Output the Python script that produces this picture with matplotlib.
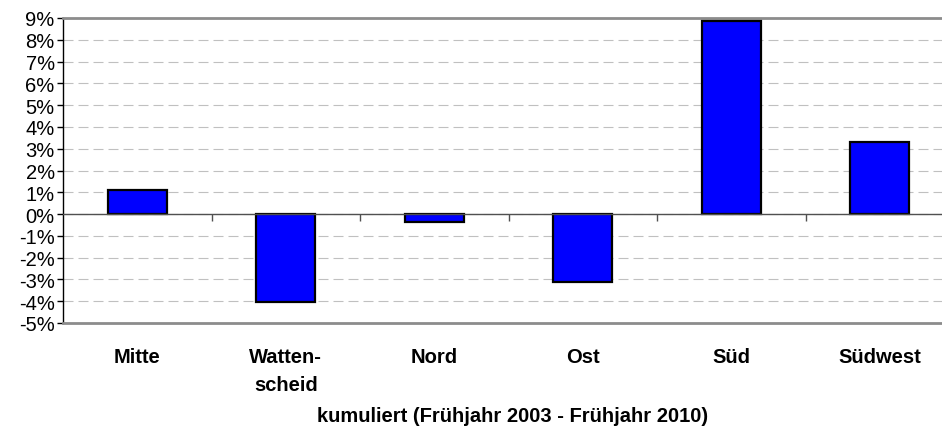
import matplotlib
matplotlib.use('Agg')
from matplotlib import pyplot as plt
import numpy as np

plt.rcParams['font.family'] = ['Liberation Sans', 'DejaVu Sans']

# Data (percent)
districts = ['Mitte', 'Watten-\nscheid', 'Nord', 'Ost', 'Süd', 'Südwest']
change_pct = [1.1, -4.05, -0.37, -3.13, 8.85, 3.3]
y_ticks = list(range(-5, 10))

fig = plt.figure(figsize=(9.42, 4.27), dpi=100)
# plot area runs slightly past the right edge, as in the original
ax = fig.add_axes([63 / 942, 1 - 324 / 427, 891 / 942, 305 / 427])

x = np.arange(len(districts))
ax.bar(x, change_pct, width=0.40, color='#0000FF', edgecolor='black',
       linewidth=1.6, zorder=3)

ax.set_xlim(-0.5, len(districts) - 0.5)
ax.set_ylim(-5, 9)

# y axis
ax.set_yticks(y_ticks)
ax.set_yticklabels(['%d%%' % v for v in y_ticks], fontsize=14.5)
ax.tick_params(axis='y', length=4, width=1, color='black', pad=2)
ax.yaxis.grid(True, linestyle=(0, (9, 4.5)), color='#c0c0c0', linewidth=0.8, zorder=0)

# x axis: labels under the plot, no ticks there
ax.set_xticks(x)
ax.set_xticklabels(districts, fontsize=14.5, fontweight='bold', va='top',
                   linespacing=1.6)
ax.tick_params(axis='x', length=0, pad=17)
ax.set_xlabel('kumuliert (Frühjahr 2003 - Frühjahr 2010)', fontsize=14.5,
              fontweight='bold')
ax.xaxis.set_label_coords(0.504, -0.303)
ax.xaxis.label.set_va('center')

# zero line with category separators
ax.axhline(0, color='#505050', linewidth=1.0, zorder=4)
ax.vlines(x[:-1] + 0.5, -0.3, 0, color='#505050', linewidth=1.0, zorder=4)

# borders
for side in ['top', 'bottom']:
    ax.spines[side].set_color('#8c8c8c')
    ax.spines[side].set_linewidth(2)
ax.spines['left'].set_color('black')
ax.spines['left'].set_linewidth(1)
ax.spines['right'].set_visible(False)

plt.savefig('out.png', dpi=100)
